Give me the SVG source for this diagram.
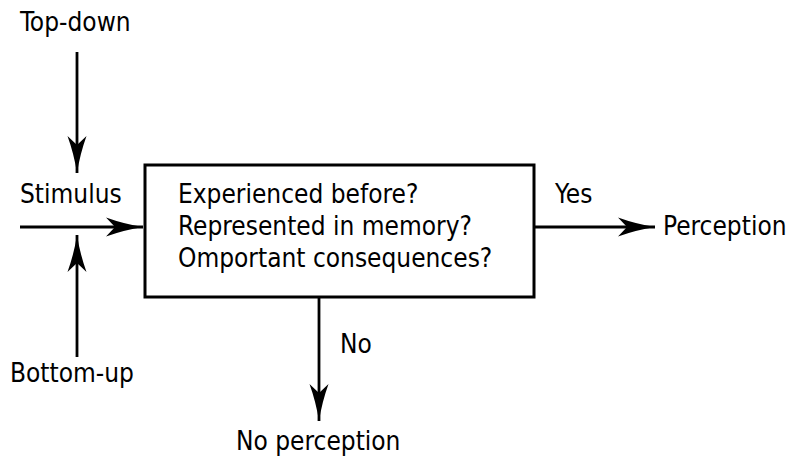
<svg xmlns="http://www.w3.org/2000/svg" width="790" height="460" viewBox="0 0 790 460">
  <style>
    text { font-family: "DejaVu Sans Condensed", "DejaVu Sans", sans-serif; font-size: 26px; fill: #000; }
    .edge { stroke: #000; stroke-width: 2.8; fill: none; marker-end: url(#head); }
    .box { fill: #fff; stroke: #000; stroke-width: 3; }
  </style>
  <defs>
    <marker id="head" markerUnits="userSpaceOnUse" markerWidth="40" markerHeight="22" refX="37" refY="10" orient="auto">
      <path d="M0,0.5 Q18,7 37,10 Q18,13 0,19.5 L9,10 z" fill="#000"/>
    </marker>
  </defs>

  <g id="connectors">
    <line class="edge" x1="77" y1="52" x2="77" y2="173"/>
    <line class="edge" x1="20" y1="227" x2="143" y2="227"/>
    <line class="edge" x1="77" y1="357" x2="77" y2="235"/>
    <line class="edge" x1="535" y1="227" x2="655" y2="227"/>
    <line class="edge" x1="319" y1="298" x2="319" y2="421"/>
  </g>

  <g id="top-down"><text x="20" y="31">Top-down</text></g>
  <g id="stimulus"><text x="20" y="203">Stimulus</text></g>
  <g id="bottom-up"><text x="10" y="382">Bottom-up</text></g>

  <g id="decision">
    <rect class="box" x="145" y="165" width="389" height="132"/>
    <text x="178" y="203">Experienced before?</text>
    <text x="178" y="235">Represented in memory?</text>
    <text x="178" y="267">Omportant consequences?</text>
  </g>

  <g id="yes-label"><text x="555" y="203">Yes</text></g>
  <g id="perception"><text x="663" y="235">Perception</text></g>
  <g id="no-label"><text x="340" y="353">No</text></g>
  <g id="no-perception"><text x="236" y="450">No perception</text></g>
</svg>
